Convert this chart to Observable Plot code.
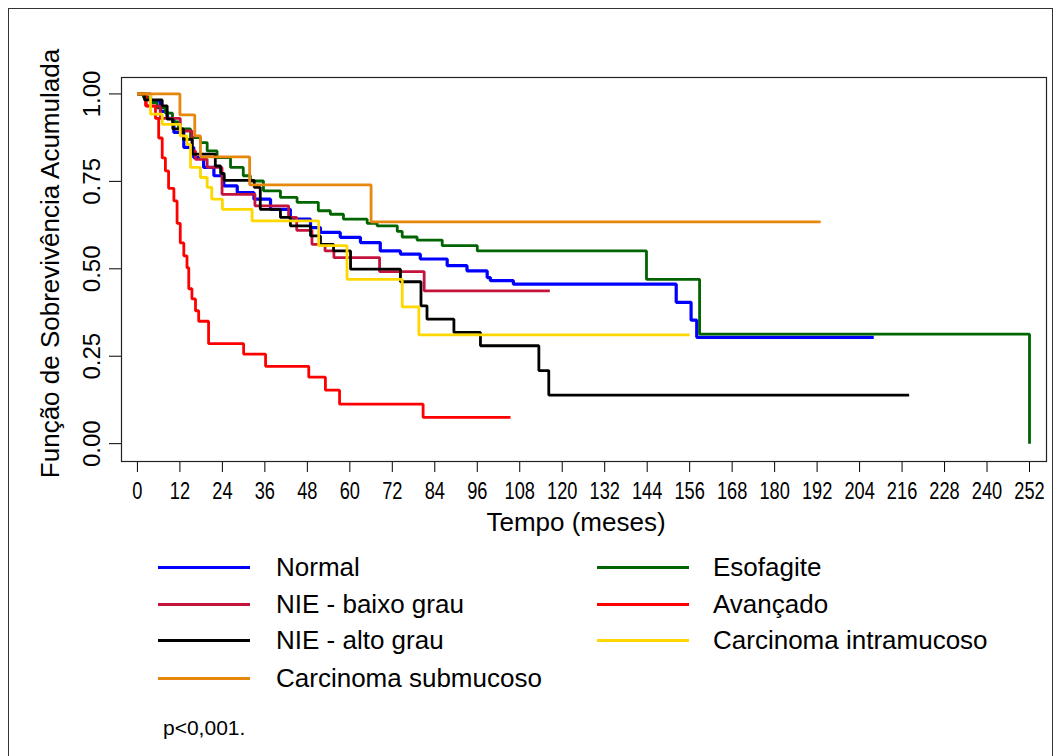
<!DOCTYPE html>
<html>
<head>
<meta charset="utf-8">
<script src="https://cdn.jsdelivr.net/npm/d3@7"></script>
<script src="https://cdn.jsdelivr.net/npm/@observablehq/plot@0.6"></script>
<style>
  html, body { margin: 0; padding: 0; background: #fff; }
  #wrap { position: relative; width: 1062px; height: 756px; overflow: hidden; font-family: "Liberation Sans", Arial, sans-serif; }
  #box { position: absolute; left: 8px; top: 8px; width: 1045px; height: 780px; border: 1.5px solid #333; box-sizing: border-box; }
  #chart { position: absolute; left: 0; top: 0; }
  .lline { position: absolute; height: 3px; }
  .ltext { position: absolute; font-size: 26px; line-height: 30px; white-space: nowrap; color: #000; }
  #pval { position: absolute; left: 163px; top: 715px; font-size: 21px; line-height: 26px; }
</style>
</head>
<body>
<div id="wrap">
  <div id="box"></div>
  <div id="chart"></div>
  <div id="legend"></div>
  <div id="pval">p&lt;0,001.</div>
</div>
<script>
// ---- data (time in months, cumulative survival) ----
const seriesNames = ["Normal", "Esofagite", "NIE - baixo grau", "Avançado", "NIE - alto grau", "Carcinoma intramucoso", "Carcinoma submucoso"];
const seriesColors = ["#0000FF", "#006400", "#C4143C", "#FF0000", "#000000", "#FFD700", "#E8870E"];

const normal = [[0,1],[3.7,0.98],[6.5,0.95],[8.4,0.93],[10.3,0.89],[13.1,0.847],[15.9,0.818],[18.7,0.79],[21.6,0.766],[24.4,0.737],[28.2,0.718],[32.9,0.699],[37.6,0.67],[43.2,0.642],[48.9,0.618],[51.7,0.604],[57.3,0.59],[63,0.575],[68.6,0.551],[74.3,0.542],[79.9,0.528],[87.5,0.509],[93.1,0.494],[98.8,0.475],[99.7,0.466],[106.2,0.456],[152.2,0.404],[156.4,0.353],[158,0.304],[208,0.304]];
const esofagite = [[0,1],[1.7,0.99],[3.7,0.975],[5.6,0.96],[7.9,0.945],[9.9,0.92],[11.6,0.9],[15,0.875],[17.8,0.861],[19.7,0.837],[22.5,0.818],[26.3,0.79],[29.9,0.766],[31.9,0.751],[35.6,0.723],[40.4,0.704],[45.1,0.69],[51.1,0.666],[54.5,0.656],[58.2,0.642],[64.9,0.63],[67.7,0.623],[73.4,0.607],[74.8,0.591],[79,0.582],[86.1,0.566],[96,0.551],[143.8,0.47],[158.8,0.313],[252,0]];
const nieBaixo = [[0,1],[2.5,0.965],[6.5,0.93],[12.1,0.894],[15.4,0.837],[16.4,0.813],[19.7,0.79],[23.9,0.713],[33.2,0.68],[42.7,0.647],[45,0.61],[49.3,0.57],[53,0.551],[55.5,0.532],[68.4,0.492],[81,0.437],[116.5,0.437]];
const avancado = [[0,1],[2.3,0.966],[5.1,0.93],[6,0.874],[7,0.817],[7.9,0.78],[8.8,0.73],[10.3,0.694],[11.2,0.63],[12.1,0.574],[13.1,0.537],[14,0.503],[14.5,0.443],[15.4,0.414],[16.4,0.38],[17.3,0.35],[20.1,0.286],[30,0.256],[36.2,0.221],[48.4,0.19],[53.1,0.153],[57.1,0.113],[80.7,0.075],[105.4,0.075]];
const nieAlto = [[0,1],[2,0.983],[7,0.966],[8.4,0.928],[10,0.9],[13,0.87],[15.5,0.828],[22,0.794],[23.5,0.773],[24.5,0.753],[33,0.733],[34.7,0.67],[40.4,0.647],[43.2,0.623],[48.9,0.594],[51.7,0.57],[55.4,0.551],[60.2,0.499],[74.3,0.463],[80.1,0.394],[81.8,0.356],[89.4,0.318],[96.9,0.28],[113.4,0.209],[116.2,0.139],[218,0.139]];
const intramucoso = [[0,1],[3.7,0.942],[7,0.913],[12.1,0.88],[14,0.856],[15,0.79],[17.8,0.761],[19.7,0.733],[21,0.699],[24,0.67],[32.4,0.637],[51.2,0.566],[59.2,0.47],[74.8,0.391],[79.5,0.311],[156,0.311]];
const submucoso = [[0,1],[12,0.94],[16.2,0.88],[17.8,0.82],[31.7,0.74],[66,0.634],[193,0.634]];

const xTicks = [0,12,24,36,48,60,72,84,96,108,120,132,144,156,168,180,192,204,216,228,240,252];
const yTicks = [0, 0.25, 0.5, 0.75, 1];
const yTickLabels = ["0.00", "0.25", "0.50", "0.75", "1.00"];

// ---- build table ----
const allSeries = [normal, esofagite, nieBaixo, avancado, nieAlto, intramucoso, submucoso];
const rows = allSeries.flatMap((s, i) => s.map(([t, v]) => ({t, v, g: seriesNames[i]})));

const chart = Plot.plot({
  width: 1062,
  height: 540,
  marginLeft: 121,
  marginRight: 16,
  marginTop: 77,
  marginBottom: 79,
  style: {fontFamily: "'Liberation Sans', Arial, sans-serif", background: "transparent"},
  x: {domain: [-4.5, 256.8]},
  y: {domain: [-0.051, 1.047]},
  color: {domain: seriesNames, range: seriesColors},
  marks: [
    Plot.axisX({ticks: xTicks, tickSize: 11, tickPadding: 9, label: null, fontSize: 24, tickFormat: d => String(d)}),
    Plot.axisY({ticks: yTicks, tickSize: 12, label: null, tickFormat: () => ""}),
    Plot.text(yTicks, {y: d => d, text: (d, i) => yTickLabels[i], frameAnchor: "left", dx: -29, rotate: -90, fontSize: 24, textAnchor: "middle", lineAnchor: "middle"}),
    Plot.text(["Função de Sobrevivência Acumulada"], {frameAnchor: "left", dx: -71, dy: -6, rotate: -90, fontSize: 26, textAnchor: "middle", lineAnchor: "middle"}),
    Plot.text(["Tempo (meses)"], {frameAnchor: "bottom", dx: -8, dy: 61, fontSize: 26, lineAnchor: "middle"}),
    ...allSeries.map((s, i) => Plot.line(rows.filter(r => r.g === seriesNames[i]), {x: "t", y: "v", stroke: "g", strokeWidth: i === 0 ? 3.2 : 2.8, curve: "step-after", strokeLinejoin: "miter", strokeLinecap: "butt"})),
    Plot.frame({stroke: "#222", strokeWidth: 1.2})
  ]
});
document.getElementById("chart").appendChild(chart);

// condensed look for x tick labels (as in the reference)
chart.querySelectorAll('g[aria-label="x-axis tick label"] text').forEach(el => {
  const tr = el.getAttribute("transform") || "";
  el.setAttribute("transform", tr + " scale(0.76,1)");
});

// ---- legend ----
const legendRowsY = [567, 604, 640, 678];
const legendColsX = [[158, 276], [597, 713]];
const leg = document.getElementById("legend");
seriesNames.forEach((name, i) => {
  const row = Math.floor(i / 2), col = i % 2;
  const y = legendRowsY[row];
  const [lx, tx] = legendColsX[col];
  const line = document.createElement("div");
  line.className = "lline";
  line.style.left = lx + "px";
  line.style.width = "92px";
  line.style.top = (y - 1.5) + "px";
  line.style.background = seriesColors[i];
  leg.appendChild(line);
  const txt = document.createElement("div");
  txt.className = "ltext";
  txt.style.left = tx + "px";
  txt.style.top = (y - 15) + "px";
  txt.textContent = name;
  leg.appendChild(txt);
});
</script>
</body>
</html>
